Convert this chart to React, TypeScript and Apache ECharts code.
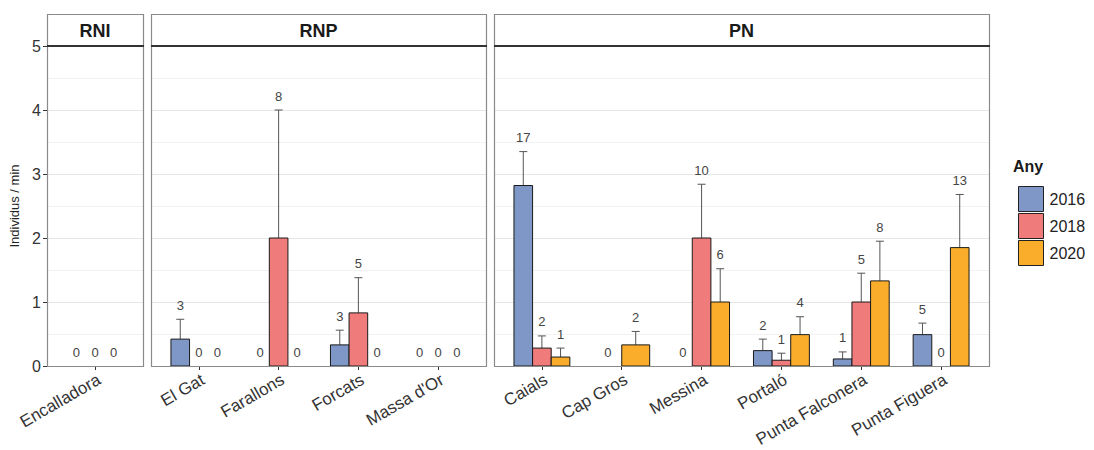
import React, { useEffect, useRef } from "react";
import * as echarts from "echarts";

// ---------- data ----------
const panels = ["RNI", "RNP", "PN"];
const years = ["2016", "2018", "2020"];
const yearColors = ["#7f97c6", "#ef7b7b", "#f9ad2a"];

const rniSites = ["Encalladora"];
const rnpSites = ["El Gat", "Farallons", "Forcats", "Massa d'Or"];
const pnSites = ["Caials", "Cap Gros", "Messina", "Portaló", "Punta Falconera", "Punta Figuera"];

// mean individuals / min, upper error-bar end, number of individuals (label)
const rniMean2016 = [0];
const rniMean2018 = [0];
const rniMean2020 = [0];
const rniUpper2016 = [0];
const rniUpper2018 = [0];
const rniUpper2020 = [0];
const rniCount2016 = [0];
const rniCount2018 = [0];
const rniCount2020 = [0];

const rnpMean2016 = [0.42, 0, 0.33, 0];
const rnpMean2018 = [0, 2.0, 0.83, 0];
const rnpMean2020 = [0, 0, 0, 0];
const rnpUpper2016 = [0.73, 0, 0.56, 0];
const rnpUpper2018 = [0, 4.0, 1.38, 0];
const rnpUpper2020 = [0, 0, 0, 0];
const rnpCount2016 = [3, 0, 3, 0];
const rnpCount2018 = [0, 8, 5, 0];
const rnpCount2020 = [0, 0, 0, 0];

const pnMean2016 = [2.82, 0, 0, 0.24, 0.11, 0.49];
const pnMean2018 = [0.28, null, 2.0, 0.09, 1.0, 0];
const pnMean2020 = [0.14, 0.33, 1.0, 0.49, 1.33, 1.85];
const pnUpper2016 = [3.35, 0, 0, 0.42, 0.22, 0.67];
const pnUpper2018 = [0.47, null, 2.84, 0.2, 1.45, 0];
const pnUpper2020 = [0.28, 0.54, 1.52, 0.77, 1.95, 2.68];
const pnCount2016 = [17, 0, 0, 2, 1, 5];
const pnCount2018 = [2, null, 10, 1, 5, 0];
const pnCount2020 = [1, 2, 6, 4, 8, 13];

const yTicks = [0, 1, 2, 3, 4, 5];

const panelData = [
  { sites: rniSites, means: [rniMean2016, rniMean2018, rniMean2020], uppers: [rniUpper2016, rniUpper2018, rniUpper2020], counts: [rniCount2016, rniCount2018, rniCount2020] },
  { sites: rnpSites, means: [rnpMean2016, rnpMean2018, rnpMean2020], uppers: [rnpUpper2016, rnpUpper2018, rnpUpper2020], counts: [rnpCount2016, rnpCount2018, rnpCount2020] },
  { sites: pnSites, means: [pnMean2016, pnMean2018, pnMean2020], uppers: [pnUpper2016, pnUpper2018, pnUpper2020], counts: [pnCount2016, pnCount2018, pnCount2020] },
];

// ---------- layout ----------
const FONT = "'Liberation Sans', Arial, Helvetica, sans-serif";
const panelLeft = [47, 151, 494];
const panelWidth = [96, 335, 495];
const stripTop = 14;
const plotTop = 46;
const plotHeight = 320;

export default function App() {
  const ref = useRef<HTMLDivElement>(null);

  useEffect(() => {
    if (!ref.current) return;
    const chart = echarts.init(ref.current, undefined, { renderer: "svg" });

    const grids: any[] = [];
    const xAxes: any[] = [];
    const yAxes: any[] = [];
    const series: any[] = [];
    const graphics: any[] = [];

    panelData.forEach((pd, p) => {
      const n = pd.sites.length;
      grids.push({
        left: panelLeft[p],
        top: plotTop,
        width: panelWidth[p],
        height: plotHeight,
        containLabel: false,
        outerBoundsMode: "none",
      });
      const idx = pd.sites.map((_, i) => i + 1);
      xAxes.push({
        gridIndex: p,
        type: "value",
        min: 0.4,
        max: n + 0.6,
        axisLine: { show: false },
        splitLine: { show: false },
        axisTick: { show: true, customValues: idx, length: 4, lineStyle: { color: "#333", width: 1 } },
        axisLabel: {
          customValues: idx,
          formatter: (v: number) => pd.sites[Math.round(v) - 1] ?? "",
          rotate: 30,
          fontSize: 17,
          fontFamily: FONT,
          color: "#333",
          margin: 5,
          verticalAlign: "top",
        },
      });
      yAxes.push({
        gridIndex: p,
        type: "value",
        min: yTicks[0],
        max: yTicks[yTicks.length - 1],
        interval: 1,
        axisLine: { show: false },
        axisTick: { show: p === 0, length: 4, lineStyle: { color: "#333" } },
        axisLabel: { show: p === 0, fontSize: 16, fontFamily: FONT, color: "#333", margin: 6 },
        splitLine: { show: true, lineStyle: { color: "#e6e6e6", width: 1 } },
        minorTick: { show: false, splitNumber: 2 },
        minorSplitLine: { show: true, lineStyle: { color: "#f2f2f2", width: 1 } },
      });

      years.forEach((yr, yi) => {
        const data: any[] = [];
        pd.sites.forEach((_, i) => {
          const m = pd.means[yi][i];
          if (m === null || m === undefined) return;
          let slot = 0;
          let nSlots = 0;
          for (let k = 0; k < years.length; k++) {
            const mk = pd.means[k][i];
            if (mk === null || mk === undefined) continue;
            if (k < yi) slot++;
            nSlots++;
          }
          data.push([i + 1, m, pd.uppers[yi][i], pd.counts[yi][i], slot, nSlots]);
        });
        const color = yearColors[yi];
        series.push({
          type: "custom",
          name: yr,
          xAxisIndex: p,
          yAxisIndex: p,
          itemStyle: { color },
          encode: { x: 0, y: 1 },
          data,
          z: 5,
          renderItem: (params: any, api: any) => {
            const x = api.value(0);
            const v = api.value(1);
            const up = api.value(2);
            const cnt = api.value(3);
            const slot = api.value(4);
            const ns = api.value(5);
            const band = api.size([1, 0])[0];
            const total = band * 0.7;
            const w = total / ns;
            const base = api.coord([x, 0]);
            const cx = base[0] - total / 2 + w * (slot + 0.5);
            const top = api.coord([x, v])[1];
            const eTop = api.coord([x, up])[1];
            const children: any[] = [];
            if (up > v) {
              children.push({
                type: "line",
                shape: { x1: cx, y1: top, x2: cx, y2: eTop },
                style: { stroke: "#555", lineWidth: 1 },
              });
              children.push({
                type: "line",
                shape: { x1: cx - 4, y1: eTop, x2: cx + 4, y2: eTop },
                style: { stroke: "#555", lineWidth: 1 },
              });
            }
            if (v > 0) {
              children.push({
                type: "rect",
                shape: { x: cx - w / 2, y: top, width: w, height: base[1] - top },
                style: { fill: color, stroke: "#1a1a1a", lineWidth: 1 },
              });
            }
            children.push({
              type: "text",
              x: cx,
              y: eTop - 14,
              style: {
                text: String(cnt),
                fill: "#444",
                fontSize: 13,
                fontFamily: FONT,
                align: "center",
                verticalAlign: "middle",
              },
            });
            return { type: "group", children };
          },
        });
      });

      // panel border, strip
      const x0 = panelLeft[p];
      const w = panelWidth[p];
      graphics.push({
        type: "rect",
        z: 50,
        shape: { x: x0 + 0.5, y: stripTop + 0.5, width: w, height: plotTop + plotHeight - stripTop },
        style: { fill: null, stroke: "#8a8a8a", lineWidth: 1.2 },
      });
      graphics.push({
        type: "line",
        z: 51,
        shape: { x1: x0, y1: plotTop, x2: x0 + w + 1, y2: plotTop },
        style: { stroke: "#333", lineWidth: 2 },
      });
      graphics.push({
        type: "text",
        z: 51,
        x: x0 + w / 2,
        y: (stripTop + plotTop) / 2 + 1,
        style: {
          text: panels[p],
          fill: "#1a1a1a",
          fontSize: 18,
          fontWeight: "bold",
          fontFamily: FONT,
          align: "center",
          verticalAlign: "middle",
        },
      });
    });

    // y-axis title
    graphics.push({
      type: "text",
      x: 14,
      y: plotTop + plotHeight / 2,
      rotation: Math.PI / 2,
      style: {
        text: "Individus / min",
        fill: "#222",
        fontSize: 13,
        fontFamily: FONT,
        align: "center",
        verticalAlign: "middle",
      },
    });
    // legend title
    graphics.push({
      type: "text",
      x: 1013,
      y: 166,
      style: {
        text: "Any",
        fill: "#1a1a1a",
        fontSize: 16,
        fontWeight: "bold",
        fontFamily: FONT,
        align: "left",
        verticalAlign: "middle",
      },
    });

    chart.setOption({
      animation: false,
      backgroundColor: "#ffffff",
      grid: grids,
      xAxis: xAxes,
      yAxis: yAxes,
      series,
      graphic: { elements: graphics },
      legend: {
        orient: "vertical",
        left: 1013,
        top: 181,
        itemWidth: 25,
        itemHeight: 25,
        itemGap: 1,
        selectedMode: false,
        icon: "rect",
        textStyle: { fontSize: 16, fontFamily: FONT, color: "#222", padding: [0, 0, 0, 1] },
        data: years.map((y, i) => ({
          name: y,
          itemStyle: { color: yearColors[i], borderColor: "#222", borderWidth: 1 },
        })),
      },
    });

    return () => chart.dispose();
  }, []);

  return (
    <div
      ref={ref}
      style={{ position: "fixed", left: 0, top: 0, width: 1094, height: 450, background: "#fff" }}
    />
  );
}
